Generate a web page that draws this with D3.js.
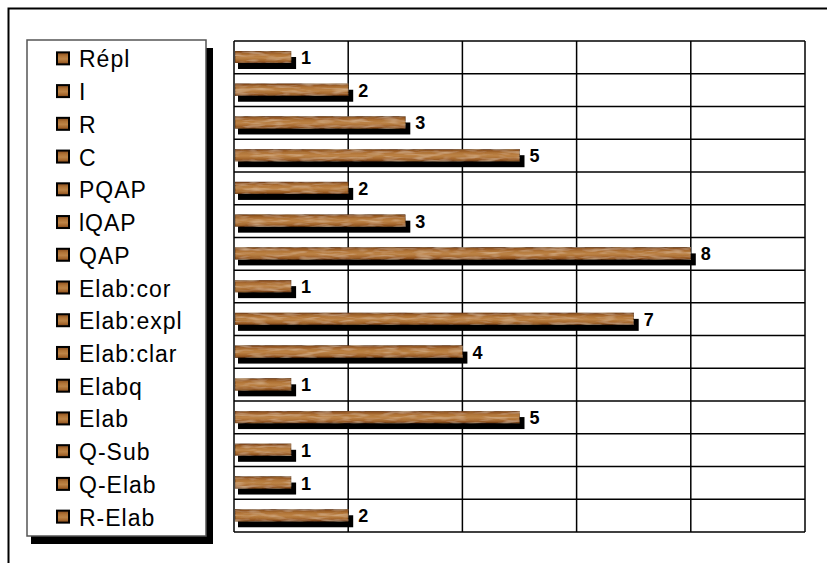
<!DOCTYPE html>
<html>
<head>
<meta charset="utf-8">
<script src="https://cdn.jsdelivr.net/npm/d3@7"></script>
<style>
  html, body { margin: 0; padding: 0; background: #fff; }
  svg { display: block; font-family: Arial, "Liberation Sans", sans-serif; }
</style>
</head>
<body>
<svg id="chart" width="827" height="563"></svg>
<script>
// Categories, top to bottom
const categories = ["Répl", "I", "R", "C", "PQAP", "lQAP", "QAP", "Elab:cor",
  "Elab:expl", "Elab:clar", "Elabq", "Elab", "Q-Sub", "Q-Elab", "R-Elab"];
// Counts per category
const counts = [1, 2, 3, 5, 2, 3, 8, 1, 7, 4, 1, 5, 1, 1, 2];
// Value-axis gridline positions
const gridTicks = [0, 2, 4, 6, 8, 10];

const svg = d3.select("#chart");
const defs = svg.append("defs");

// Wood-grain fill for the bars
const grad = defs.append("linearGradient").attr("id", "woodGrad")
  .attr("x1", 0).attr("y1", 0).attr("x2", 0).attr("y2", 1);
[[0, "#84481a"], [0.3, "#b07336"], [0.55, "#bd8447"], [0.8, "#a4662c"], [1, "#7e4418"]]
  .forEach(([o, c]) => grad.append("stop").attr("offset", o).attr("stop-color", c));

const grain = defs.append("filter").attr("id", "grain")
  .attr("x", 0).attr("y", 0).attr("width", 1).attr("height", 1);
grain.append("feTurbulence").attr("type", "fractalNoise")
  .attr("baseFrequency", "0.06 0.35").attr("numOctaves", 2).attr("seed", 5).attr("result", "noise");
// light streaks from the red channel, darker knots from the green channel
grain.append("feColorMatrix").attr("in", "noise").attr("type", "matrix")
  .attr("values", "0 0 0 0 0.80  0 0 0 0 0.60  0 0 0 0 0.38  1.2 0 0 0 -0.55")
  .attr("result", "light");
grain.append("feColorMatrix").attr("in", "noise").attr("type", "matrix")
  .attr("values", "0 0 0 0 0.45  0 0 0 0 0.22  0 0 0 0 0.06  0 1.2 0 0 -0.6")
  .attr("result", "dark");
grain.append("feMerge").attr("result", "mix").call(m => {
  m.append("feMergeNode").attr("in", "SourceGraphic");
  m.append("feMergeNode").attr("in", "light");
  m.append("feMergeNode").attr("in", "dark");
});
grain.append("feComposite").attr("in", "mix").attr("in2", "SourceGraphic").attr("operator", "in");

// Outer frame (right and bottom edges run past the window)
svg.append("rect").attr("x", 8.5).attr("y", 8.5).attr("width", 900).attr("height", 700)
  .attr("fill", "none").attr("stroke", "#000").attr("stroke-width", 2);

// Plot area
const plot = { left: 234, right: 805, top: 41, bottom: 532 };
const x = d3.scaleLinear().domain([0, 10]).range([plot.left, plot.right]);
const y = d3.scaleBand().domain(categories).range([plot.top, plot.bottom]);

const g = svg.append("g");
// Horizontal row separators
g.selectAll("line.h").data(d3.range(categories.length + 1)).join("line")
  .attr("x1", plot.left).attr("x2", plot.right)
  .attr("y1", i => plot.top + i * y.step()).attr("y2", i => plot.top + i * y.step())
  .attr("stroke", "#000").attr("stroke-width", 1.5);
// Vertical gridlines
g.selectAll("line.v").data(gridTicks).join("line")
  .attr("x1", d => x(d)).attr("x2", d => x(d))
  .attr("y1", plot.top).attr("y2", plot.bottom)
  .attr("stroke", "#000").attr("stroke-width", 1.5);

const barH = 12;
const barOff = 10;
const data = categories.map((c, i) => ({ c, v: counts[i] }));

// Bar shadows
g.selectAll("rect.shadow").data(data).join("rect")
  .attr("x", x(0) + 4)
  .attr("y", d => y(d.c) + barOff + 6)
  .attr("width", d => x(d.v) - x(0) + 1)
  .attr("height", barH)
  .attr("fill", "#000");

// Bars
g.selectAll("rect.bar").data(data).join("rect")
  .attr("x", x(0) + 1)
  .attr("y", d => y(d.c) + barOff)
  .attr("width", d => x(d.v) - x(0) - 1)
  .attr("height", barH)
  .attr("fill", "url(#woodGrad)")
  .attr("filter", "url(#grain)")
  .attr("stroke", "#5a3212").attr("stroke-width", 0.8);

// Value labels
g.selectAll("text.val").data(data).join("text")
  .attr("x", d => x(d.v) + 10)
  .attr("y", d => y(d.c) + 23)
  .attr("font-size", 18).attr("font-weight", "bold")
  .text(d => d.v);

// Legend with drop shadow
const leg = { x: 27, y: 40, w: 179, h: 496 };
svg.append("rect").attr("x", leg.x + 4).attr("y", leg.y + 8)
  .attr("width", leg.w + 3).attr("height", leg.h)
  .attr("fill", "#000");
svg.append("rect").attr("x", leg.x).attr("y", leg.y).attr("width", leg.w).attr("height", leg.h)
  .attr("fill", "#fff").attr("stroke", "#555").attr("stroke-width", 1.5);

const items = svg.append("g").selectAll("g").data(categories).join("g")
  .attr("transform", d => `translate(0,${y(d) + y.bandwidth() / 2})`);
items.append("rect").attr("x", 57).attr("y", -5).attr("width", 12).attr("height", 12)
  .attr("fill", "url(#woodGrad)").attr("stroke", "#000").attr("stroke-width", 2);
items.append("text").attr("x", 79).attr("y", 10)
  .attr("font-size", 23).attr("letter-spacing", 1).text(d => d);
</script>
</body>
</html>
